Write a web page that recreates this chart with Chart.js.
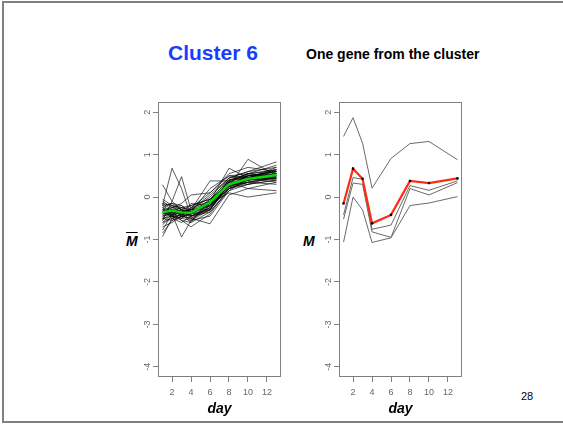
<!DOCTYPE html>
<html><head><meta charset="utf-8">
<script src="https://cdn.jsdelivr.net/npm/chart.js@4"></script>
<style>
html,body{margin:0;padding:0;background:#fff;overflow:hidden;width:563px;height:424px;}
body{position:relative;font-family:"Liberation Sans",Arial,sans-serif;}
.frame{position:absolute;left:2px;top:1px;width:700px;height:418px;border:2px solid #808080;}
.t{position:absolute;white-space:nowrap;line-height:1;}
canvas{position:absolute;}
</style></head><body>
<div class="frame"></div>
<div class="t" style="left:168px;top:42px;font-size:21px;font-weight:bold;color:#1a3cff">Cluster 6</div>
<div class="t" style="left:306px;top:47px;font-size:14px;font-weight:bold;color:#000">One gene from the cluster</div>
<div class="t" style="left:521px;top:391px;font-size:11px;color:#000">28</div>
<div class="t" style="left:126px;top:234px;font-size:14px;font-weight:bold;font-style:italic;text-decoration:overline">M</div>
<div class="t" style="left:303px;top:234px;font-size:14px;font-weight:bold;font-style:italic">M</div>
<canvas id="c1" width="200" height="325" style="left:100px;top:95px"></canvas>
<canvas id="c2" width="200" height="325" style="left:281px;top:95px"></canvas>
<script>
const days = [1, 2, 3, 4, 6, 8, 10, 13];
const xTicks = [2, 4, 6, 8, 10, 12];
const yTicks = [-4, -3, -2, -1, 0, 1, 2];

// Left panel: cluster mean (green) and member genes (black)
const clusterMean = [-0.36, -0.32, -0.36, -0.37, -0.12, 0.30, 0.43, 0.52];
const clusterGenes = [
  [-0.20, 0.68, 0.20, -0.45, -0.30, 0.35, 0.55, 0.62],
  [-0.55, -0.10, 0.48, -0.30, -0.20, 0.25, 0.40, 0.55],
  [-0.93, -0.50, -0.40, -0.60, -0.35, 0.20, 0.35, 0.45],
  [-0.78, -0.40, -0.94, -0.55, -0.45, 0.15, 0.30, 0.50],
  [0.29, -0.10, -0.30, -0.40, -0.20, 0.40, 0.50, 0.60],
  [-0.35, -0.45, -0.50, -0.55, -0.30, 0.30, 0.45, 0.70],
  [-0.40, -0.30, -0.35, -0.30, 0.38, 0.38, 0.55, 0.75],
  [-0.25, -0.35, -0.40, -0.35, -0.10, 0.68, 0.45, 0.35],
  [-0.45, -0.40, -0.30, -0.20, -0.05, 0.25, 0.89, 0.50],
  [-0.30, -0.25, -0.20, -0.40, -0.15, 0.10, 0.00, 0.10],
  [-0.50, -0.55, -0.45, -0.50, -0.63, 0.05, 0.20, 0.35],
  [-0.15, -0.20, -0.25, -0.30, 0.05, 0.45, 0.60, 0.83],
  [-0.60, -0.50, -0.60, -0.45, -0.25, 0.30, 0.40, 0.45],
  [-0.35, -0.30, -0.45, -0.25, -0.10, 0.35, 0.50, 0.55],
  [-0.20, -0.15, -0.30, -0.35, -0.20, 0.40, 0.45, 0.60],
  [-0.65, -0.45, -0.55, -0.70, -0.40, 0.20, 0.30, 0.40],
  [-0.10, -0.25, -0.15, 0.05, 0.10, 0.50, 0.55, 0.65],
  [-0.45, -0.35, -0.40, -0.45, -0.20, 0.20, 0.35, 0.30],
  [-0.30, -0.40, -0.35, -0.30, 0.00, 0.45, 0.60, 0.70],
  [-0.50, -0.30, -0.25, -0.40, -0.30, 0.25, 0.40, 0.50],
  [-0.25, -0.45, -0.50, -0.35, -0.15, 0.30, 0.50, 0.60],
  [-0.40, -0.20, -0.30, -0.50, -0.25, 0.35, 0.20, 0.15],
  [-0.70, -0.60, -0.45, -0.40, -0.05, 0.40, 0.45, 0.55],
  [-0.05, -0.20, -0.40, -0.30, -0.10, 0.25, 0.35, 0.45],
  [-0.55, -0.35, -0.30, -0.45, -0.35, 0.15, 0.45, 0.65],
  [-0.30, -0.50, -0.40, -0.25, 0.10, 0.55, 0.70, 0.60],
  [-0.45, -0.25, -0.35, -0.55, -0.20, 0.35, 0.30, 0.40],
  [-0.20, -0.35, -0.25, -0.20, -0.05, 0.30, 0.45, 0.55],
  [-0.60, -0.40, -0.50, -0.35, -0.15, 0.40, 0.55, 0.50],
  [-0.35, -0.45, -0.30, -0.45, -0.25, 0.20, 0.40, 0.45],
  [-0.15, -0.30, -0.45, -0.40, -0.10, 0.45, 0.50, 0.60],
  [-0.50, -0.45, -0.35, -0.30, -0.30, 0.30, 0.35, 0.50],
  [-0.40, -0.35, -0.55, -0.60, -0.05, 0.25, 0.50, 0.40],
  [-0.25, -0.15, -0.20, -0.35, 0.20, 0.50, 0.45, 0.65],
  [-0.85, -0.55, -0.45, -0.50, -0.30, 0.35, 0.40, 0.55],
  [-0.30, -0.40, -0.45, -0.15, -0.20, 0.20, 0.55, 0.45]
];

// Right panel: one gene (red) and similar genes (gray)
const oneGene = [-0.15, 0.67, 0.43, -0.62, -0.42, 0.38, 0.33, 0.44];
const otherGenes = [
  [1.43, 1.87, 1.27, 0.21, 0.91, 1.26, 1.31, 0.88],
  [-0.42, 0.46, 0.42, -0.76, -0.66, 0.27, 0.16, 0.38],
  [-0.52, 0.33, 0.30, -0.82, -0.95, 0.20, 0.05, 0.34],
  [-1.06, 0.00, -0.30, -1.07, -0.96, -0.20, -0.14, 0.01]
];

const pts = vals => vals.map((v, i) => ({x: days[i], y: v}));

const boxPlugin = {
  id: 'boxPlugin',
  afterDraw(chart) {
    const {ctx, chartArea: a, scales: {x, y}} = chart;
    ctx.save();
    ctx.strokeStyle = '#808080';
    ctx.lineWidth = 1;
    ctx.strokeRect(Math.round(a.left) + 0.5, Math.round(a.top) + 0.5,
                   Math.round(a.right - a.left) - 1, Math.round(a.bottom - a.top) - 1);
    ctx.fillStyle = '#666';
    ctx.font = '9px "Liberation Sans"';
    ctx.textAlign = 'center';
    ctx.textBaseline = 'middle';
    y.ticks.forEach(t => {
      const py = y.getPixelForValue(t.value);
      ctx.save();
      ctx.translate(a.left - 10, py);
      ctx.rotate(-Math.PI / 2);
      ctx.fillText(String(t.value), 0, 0);
      ctx.restore();
    });
    ctx.restore();
  }
};

function makeChart(id, datasets) {
  return new Chart(document.getElementById(id), {
    type: 'line',
    data: {datasets},
    options: {
      responsive: false, animation: false, devicePixelRatio: 1,
      layout: {padding: {left: 53, right: 19, top: 7, bottom: 0}},
      plugins: {legend: {display: false}, tooltip: {enabled: false}},
      elements: {point: {radius: 0}, line: {tension: 0}},
      scales: {
        x: {
          type: 'linear', min: 0.52, max: 13.48,
          afterBuildTicks: s => { s.ticks = xTicks.map(v => ({value: v})); },
          afterFit: s => { s.height = 43; },
          grid: {drawOnChartArea: false, tickLength: 5, color: '#808080'},
          border: {display: false},
          ticks: {font: {size: 9, family: 'Liberation Sans'}, color: '#666', padding: 5, maxRotation: 0, autoSkip: false},
          title: {display: true, text: 'day', color: '#000',
                  font: {size: 14, weight: 'bold', style: 'italic', family: 'Liberation Sans'},
                  padding: {top: 0, bottom: 2}}
        },
        y: {
          type: 'linear', min: -4.24, max: 2.24,
          afterBuildTicks: s => { s.ticks = yTicks.map(v => ({value: v})); },
          afterFit: s => { s.width = 5; },
          grid: {drawOnChartArea: false, tickLength: 5, color: '#808080'},
          border: {display: false},
          ticks: {display: false}
        }
      }
    },
    plugins: [boxPlugin]
  });
}

const leftSets = [{data: pts(clusterMean), borderColor: '#00e000', borderWidth: 2.3}]
  .concat(clusterGenes.map(g => ({data: pts(g), borderColor: 'rgba(0,0,0,0.8)', borderWidth: 0.8})));
makeChart('c1', leftSets);

const rightSets = [{data: pts(oneGene), borderColor: '#ff2a10', borderWidth: 2.2,
                    pointRadius: 1.3, pointBackgroundColor: '#000', pointBorderColor: '#000', pointBorderWidth: 0}]
  .concat(otherGenes.map(g => ({data: pts(g), borderColor: '#6a6a6a', borderWidth: 1})));
makeChart('c2', rightSets);
</script>
</body></html>
